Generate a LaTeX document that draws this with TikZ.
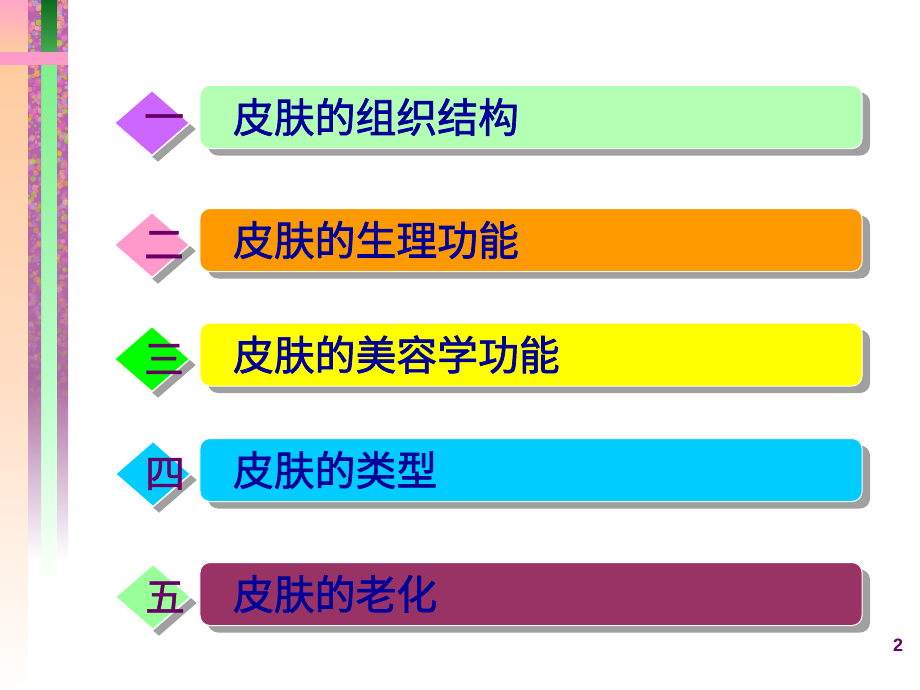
\documentclass[tikz,border=0pt]{standalone}
\usepackage{fontspec}
\setmainfont{Liberation Sans}
\newfontfamily\cjk{Noto Sans CJK SC}
\newfontfamily\cjkfb[FakeBold=1.6]{Noto Sans CJK SC}
\newfontfamily\cjknum[FakeBold=1.2]{Noto Sans CJK SC}
\usetikzlibrary{shapes.geometric,shadows}

\definecolor{txtblue}{RGB}{0,0,153}
\definecolor{numpurple}{RGB}{102,0,102}
\definecolor{shadowgray}{RGB}{160,160,160}
\definecolor{boxA}{RGB}{179,255,179}
\definecolor{boxB}{RGB}{255,153,0}
\definecolor{boxC}{RGB}{255,255,0}
\definecolor{boxD}{RGB}{0,204,255}
\definecolor{boxE}{RGB}{153,51,102}
\definecolor{diaA}{RGB}{204,102,255}
\definecolor{diaB}{RGB}{255,153,204}
\definecolor{diaC}{RGB}{0,255,0}
\definecolor{diaD}{RGB}{0,204,255}
\definecolor{diaE}{RGB}{153,255,153}
\definecolor{bandpink}{RGB}{255,155,200}
\definecolor{peachtop}{RGB}{255,166,200}
\definecolor{peach}{RGB}{255,204,160}
\definecolor{peachlight}{RGB}{255,222,196}
\definecolor{gdark}{RGB}{10,110,30}
\definecolor{gmid}{RGB}{70,170,80}
\definecolor{glight}{RGB}{128,240,140}
\definecolor{glighter}{RGB}{190,255,205}
\definecolor{texbase}{RGB}{185,100,175}

\pgfmathdeclarerandomlist{texcol}{{magenta!60!white}{violet!50}{orange!60}{red!40}{green!40!yellow}{blue!35}{pink}{purple!50}{yellow!60!orange}{magenta!50}{violet!40}}

\tikzset{
  itembox/.style={draw=white, line width=1bp, rounded corners=10bp,
    minimum width=662bp, minimum height=63bp, text width=596bp,
    inner xsep=33bp, inner ysep=0bp, align=left,
    font=\cjkfb\fontsize{41}{48}\selectfont, text=txtblue,
    drop shadow={shadow xshift=8bp, shadow yshift=-7bp, fill=shadowgray, opacity=1}},
  itemdia/.style={shape=diamond, draw=white, line width=1.5bp,
    minimum width=76bp, minimum height=66bp, inner sep=0bp,
    drop shadow={shadow xshift=6bp, shadow yshift=-6bp, fill=shadowgray, opacity=1}},
  itemnum/.style={font=\cjknum\fontsize{40}{42}\selectfont, text=numpurple, inner sep=0bp},
}

\begin{document}
\begin{tikzpicture}[x=1bp,y=-1bp]
\useasboundingbox (0,0) rectangle (920,690);
\fill[white] (0,0) rectangle (920,690);

% ---- left decorative strip ----
\shade[top color=peachtop, bottom color=peach] (0,0) rectangle (28,52);
\shade[top color=peach, bottom color=peachlight] (0,65) rectangle (28,380);
\shade[top color=peachlight, bottom color=white] (0,380) rectangle (28,690);
\shade[top color=gdark, bottom color=gmid] (41,0) rectangle (57,52);
\shade[top color=glight, bottom color=glighter] (41,65) rectangle (57,400);
\shade[top color=glighter, bottom color=white] (41,400) rectangle (57,585);
\shade[top color=texbase, bottom color=texbase] (28,0) rectangle (41,52) (57,0) rectangle (68,52);
\shade[top color=texbase, bottom color=texbase!75!gray] (28,65) rectangle (41,380) (57,65) rectangle (68,380);
\shade[top color=texbase!75!gray, bottom color=white] (28,380) rectangle (41,560) (57,380) rectangle (68,560);
\pgfmathsetseed{7}
\begin{scope}
  \clip (28,0) rectangle (41,52) (28,65) rectangle (41,470) (57,0) rectangle (68,52) (57,65) rectangle (68,470);
  \foreach \k in {1,...,800}{
    \pgfmathsetmacro{\px}{rnd<0.52 ? 28+13*rnd : 57+11*rnd}
    \pgfmathsetmacro{\py}{470*rnd}
    \pgfmathsetmacro{\pr}{1.2+2*rnd}
    \pgfmathsetmacro{\op}{max(0,0.7-\py/650)}
    \pgfmathrandomitem{\cc}{texcol}
    \fill[\cc, fill opacity=\op] (\px,\py) circle[radius=\pr];
  }
\end{scope}
\fill[bandpink] (0,52) rectangle (68,65);

% ---- rows ----
\node[itemdia, fill=diaA] (d1) at (152,123) {};
\node[itemdia, fill=diaB] (d2) at (152,245) {};
\node[itemdia, fill=diaC] (d3) at (152,359) {};
\node[itemdia, fill=diaD] (d4) at (153,474) {};
\node[itemdia, fill=diaE] (d5) at (153,597) {};

\node[itemnum] (n1) at ([xshift=12bp]d1.center) {一};
\node[itemnum] (n2) at ([xshift=12bp]d2.center) {二};
\node[itemnum] (n3) at ([xshift=12bp]d3.center) {三};
\node[itemnum] (n4) at ([xshift=12bp]d4.center) {四};
\node[itemnum] (n5) at ([xshift=12bp]d5.center) {五};

\node[itembox, fill=boxA] (b1) at (531,117) {皮肤的组织结构};
\node[itembox, fill=boxB] (b2) at (531,240) {皮肤的生理功能};
\node[itembox, fill=boxC] (b3) at (531,354.5) {皮肤的美容学功能};
\node[itembox, fill=boxD] (b4) at (531,470) {皮肤的类型};
\node[itembox, fill=boxE] (b5) at (531,594) {皮肤的老化};

% ---- page number ----
\node[font=\bfseries\fontsize{18}{19}\selectfont, text=numpurple, inner sep=0bp] (pg) at (898,645) {2};
\end{tikzpicture}
\end{document}
